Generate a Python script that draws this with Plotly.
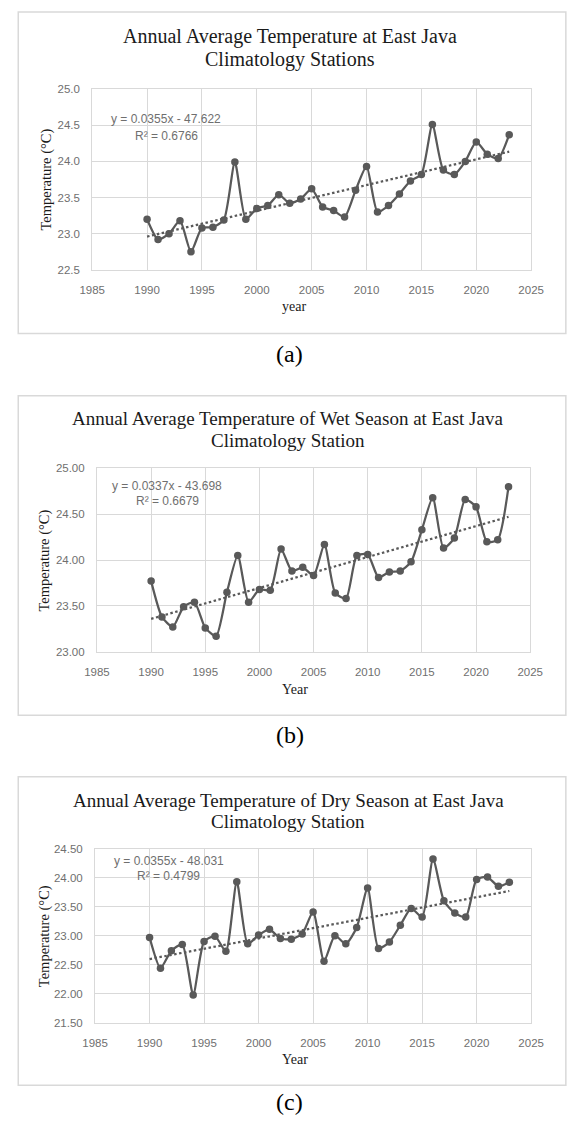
import numpy as np
import plotly.graph_objects as go

# ---------------- data ----------------
years = list(range(1990, 2024))

temp_annual = [23.20, 22.92, 23.00, 23.18, 22.75, 23.08, 23.09, 23.19, 23.99, 23.20,
               23.35, 23.39, 23.54, 23.42, 23.48, 23.62, 23.37, 23.32, 23.23, 23.60,
               23.93, 23.30, 23.39, 23.55, 23.73, 23.82, 24.51, 23.88, 23.82, 24.00,
               24.27, 24.10, 24.04, 24.37]

temp_wet = [23.77, 23.38, 23.27, 23.49, 23.54, 23.26, 23.17, 23.65, 24.05, 23.54,
            23.68, 23.67, 24.12, 23.88, 23.92, 23.83, 24.17, 23.64, 23.58, 24.05,
            24.06, 23.81, 23.87, 23.88, 23.98, 24.33, 24.68, 24.13, 24.24, 24.66,
            24.58, 24.20, 24.22, 24.80]

temp_dry = [22.97, 22.44, 22.74, 22.85, 21.98, 22.90, 22.99, 22.73, 23.93, 22.86,
            23.01, 23.11, 22.95, 22.94, 23.03, 23.41, 22.56, 23.00, 22.86, 23.14,
            23.82, 22.78, 22.89, 23.18, 23.47, 23.32, 24.32, 23.60, 23.39, 23.32,
            23.97, 24.01, 23.85, 23.92]

titles = [
    ("Annual Average Temperature at East Java", "Climatology Stations"),
    ("Annual Average Temperature of Wet Season at East Java", "Climatology Station"),
    ("Annual Average Temperature of Dry Season at East Java", "Climatology Station"),
]
equations = [
    ("y = 0.0355x - 47.622", "R² = 0.6766"),
    ("y = 0.0337x - 43.698", "R² = 0.6679"),
    ("y = 0.0355x - 48.031", "R² = 0.4799"),
]
x_titles = ["year", "Year", "Year"]
y_title = "Temperature (°C)"
captions = ["(a)", "(b)", "(c)"]
y_ranges = [(22.5, 25.0), (23.0, 25.0), (21.5, 24.5)]
y_formats = [".1f", ".2f", ".2f"]
x_range = (1985, 2025)

# ---------------- layout geometry (pixels) ----------------
W, H = 568, 1125
layout_px = [
    dict(plot=(83, 543, 84, 266.7), title_x=290, title_y=(30.7, 54), title_size=20,
         eq=((160.5, 114), (161, 131)),
         ytitle=(35, 175), xtitle=(295, 304), border=(6, 331), caption=(289.5, 352)),
    dict(plot=(88, 542, 467.3, 652.7), title_x=288, title_y=(417, 439), title_size=19,
         eq=((161, 485), (161.5, 500.7)),
         ytitle=(33, 560), xtitle=(296, 691), border=(394, 717), caption=(290, 737)),
    dict(plot=(86, 543, 851.7, 1027.7), title_x=288.5, title_y=(803, 824), title_size=19,
         eq=((163.5, 864), (163, 879)),
         ytitle=(33, 939.7), xtitle=(296, 1065), border=(779, 1091), caption=(290, 1108)),
]


def fx(p):
    return p / W


def fy(p):
    return 1 - p / H


LINE = "#595959"
GRID = "#d9d9d9"
TICK = "#6f6f6f"
SERIF = "Liberation Serif"
SANS = "Liberation Sans"

fig = go.Figure()
annotations = []
shapes = []
series = [temp_annual, temp_wet, temp_dry]

for i, (vals, geo) in enumerate(zip(series, layout_px)):
    n = "" if i == 0 else str(i + 1)
    xa, ya = "x" + n, "y" + n
    # data line
    fig.add_trace(go.Scatter(
        x=years, y=vals, xaxis=xa, yaxis=ya, mode="lines+markers",
        line=dict(color=LINE, width=2.25, shape="spline", smoothing=0.6),
        marker=dict(color=LINE, size=7.5), showlegend=False, hoverinfo="skip"))
    # linear trend
    slope, intercept = np.polyfit(years, vals, 1)
    tx = [years[0], years[-1]]
    fig.add_trace(go.Scatter(
        x=tx, y=[slope * t + intercept for t in tx], xaxis=xa, yaxis=ya, mode="lines",
        line=dict(color=LINE, width=2.25, dash="2.5px,2.5px"), showlegend=False, hoverinfo="skip"))

    x0, x1, y0, y1 = geo["plot"]
    axis_common = dict(showgrid=True, gridcolor=GRID, gridwidth=1, showline=True,
                       linecolor=GRID, linewidth=1, mirror=True, zeroline=False,
                       tickfont=dict(family=SANS, size=11.5, color=TICK), ticks="")
    fig.layout["xaxis" + n] = dict(axis_common, domain=[fx(x0), fx(x1)], range=list(x_range),
                                   dtick=5, tick0=1985, anchor=ya, ticklabelstandoff=9)
    fig.layout["yaxis" + n] = dict(axis_common, domain=[fy(y1), fy(y0)], range=list(y_ranges[i]),
                                   dtick=0.5, tickformat=y_formats[i], anchor=xa, ticklabelstandoff=9)

    # border
    b0, b1 = geo["border"]
    shapes.append(dict(type="rect", xref="paper", yref="paper", x0=fx(5.5), x1=1.02,
                       y0=fy(b1), y1=fy(b0), line=dict(color=GRID, width=1.5)))
    # titles
    for line_text, ty in zip(titles[i], geo["title_y"]):
        annotations.append(dict(text=line_text, x=fx(geo["title_x"]), y=fy(ty), xref="paper", yref="paper",
                                xanchor="center", yanchor="middle", showarrow=False,
                                font=dict(family=SERIF, size=geo["title_size"], color="#1a1a1a")))
    # equation
    for eq_text, (ex, ey) in zip(equations[i], geo["eq"]):
        annotations.append(dict(text=eq_text, x=fx(ex), y=fy(ey), xref="paper", yref="paper",
                                xanchor="center", yanchor="middle", showarrow=False,
                                font=dict(family=SANS, size=12, color=TICK)))
    # axis titles
    annotations.append(dict(text=y_title, x=fx(geo["ytitle"][0]), y=fy(geo["ytitle"][1]),
                            xref="paper", yref="paper", xanchor="center", yanchor="middle",
                            textangle=-90, showarrow=False,
                            font=dict(family=SERIF, size=14.5, color="#1a1a1a")))
    annotations.append(dict(text=x_titles[i], x=fx(geo["xtitle"][0]), y=fy(geo["xtitle"][1]),
                            xref="paper", yref="paper", xanchor="center", yanchor="middle",
                            showarrow=False, font=dict(family=SERIF, size=14, color="#1a1a1a")))
    # caption
    annotations.append(dict(text=captions[i], x=fx(geo["caption"][0]), y=fy(geo["caption"][1]),
                            xref="paper", yref="paper", xanchor="center", yanchor="middle",
                            showarrow=False, font=dict(family=SERIF, size=24, color="#000000")))

fig.update_layout(width=W, height=H, margin=dict(l=0, r=0, t=0, b=0),
                  paper_bgcolor="white", plot_bgcolor="white",
                  annotations=annotations, shapes=shapes, showlegend=False)

fig.write_html("out.html", config={"displayModeBar": False})
